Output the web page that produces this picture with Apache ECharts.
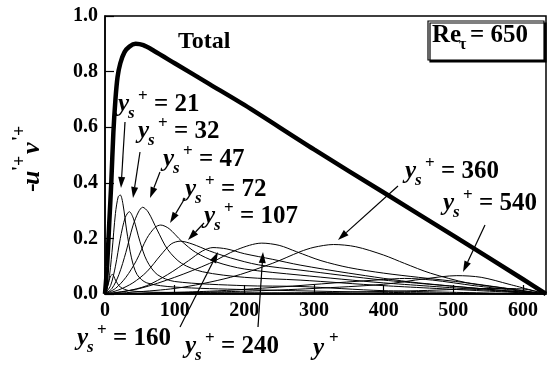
<!DOCTYPE html>
<html>
<head>
<meta charset="utf-8">
<script src="https://cdn.jsdelivr.net/npm/echarts@6/dist/echarts.min.js"></script>
<style>
  html, body { margin: 0; padding: 0; background: #fff; }
  #chart { width: 549px; height: 367px; }
</style>
</head>
<body>
<div id="chart"></div>
<script>
// y+ max (channel half width as drawn)
const yPlusMax = 633

// total Reynolds shear stress  [y+, -u'v'+]
const totalCurve = [[0, 0], [3, 0.1], [6, 0.25], [9, 0.4], [12, 0.58], [15, 0.7], [18, 0.78], [22, 0.83], [28, 0.87],
  [35, 0.89], [44, 0.9], [55, 0.895], [70, 0.875], [100, 0.83], [150, 0.755], [200, 0.68], [300, 0.52],
  [400, 0.365], [500, 0.21], [600, 0.053], [633, 0]]

// contributions of each ys+
const ys10 = [[0, 0], [4, 0.03], [8, 0.065], [11, 0.07], [15, 0.05], [22, 0.025], [35, 0.012], [80, 0.006], [633, 0]]
const ys21 = [[0, 0], [5, 0.04], [10, 0.15], [15, 0.29], [19, 0.35], [22, 0.356], [26, 0.32], [31, 0.23], [38, 0.13],
  [46, 0.07], [60, 0.04], [100, 0.025], [200, 0.016], [400, 0.006], [633, 0]]
const ys32 = [[0, 0], [8, 0.03], [15, 0.1], [22, 0.2], [29, 0.275], [35, 0.296], [41, 0.27], [50, 0.19], [60, 0.12],
  [75, 0.07], [100, 0.045], [200, 0.03], [280, 0.027], [400, 0.012], [633, 0]]
const ys47 = [[0, 0], [10, 0.02], [20, 0.07], [30, 0.15], [40, 0.245], [48, 0.295], [54, 0.312], [62, 0.295], [75, 0.23],
  [90, 0.16], [110, 0.11], [140, 0.08], [200, 0.06], [280, 0.05], [400, 0.03], [633, 0]]
const ys72 = [[0, 0], [15, 0.02], [30, 0.06], [45, 0.12], [60, 0.2], [72, 0.24], [80, 0.248], [92, 0.235], [110, 0.19],
  [130, 0.15], [160, 0.115], [200, 0.09], [280, 0.068], [400, 0.04], [633, 0]]
const ys107 = [[0, 0], [20, 0.015], [40, 0.04], [60, 0.08], [80, 0.14], [95, 0.18], [108, 0.19], [125, 0.18], [150, 0.155],
  [180, 0.13], [220, 0.105], [280, 0.086], [400, 0.05], [633, 0]]
const ys160 = [[0, 0], [30, 0.01], [60, 0.03], [90, 0.07], [120, 0.12], [140, 0.155], [155, 0.167], [175, 0.162],
  [200, 0.145], [240, 0.125], [280, 0.104], [350, 0.075], [450, 0.04], [633, 0]]
const ys240 = [[0, 0], [50, 0.02], [100, 0.06], [150, 0.11], [190, 0.16], [225, 0.183], [250, 0.175], [275, 0.152],
  [310, 0.12], [350, 0.095], [400, 0.075], [450, 0.06], [520, 0.04], [633, 0]]
const ys360 = [[0, 0], [100, 0.02], [180, 0.06], [240, 0.11], [280, 0.152], [300, 0.168], [328, 0.178], [360, 0.17],
  [400, 0.14], [430, 0.11], [467, 0.075], [520, 0.04], [570, 0.022], [633, 0]]
const ys450 = [[0, 0], [150, 0.01], [250, 0.025], [330, 0.04], [400, 0.052], [430, 0.056], [470, 0.05], [530, 0.03], [633, 0]]
const ys540 = [[0, 0], [200, 0.01], [300, 0.02], [400, 0.035], [460, 0.055], [505, 0.066], [540, 0.06], [580, 0.035], [633, 0]]
const ys600 = [[0, 0], [300, 0.005], [450, 0.012], [560, 0.02], [600, 0.018], [633, 0]]

const thinCurves = [ys10, ys21, ys32, ys47, ys72, ys107, ys160, ys240, ys360, ys450, ys540, ys600]

const serif = "'Liberation Serif', 'DejaVu Serif', serif"

// annotation layout (pixels): label value, left x, baseline
const ysLabels = [
  ['21', 118, 113], ['32', 138, 140], ['47', 163, 168], ['72', 185, 198], ['107', 204, 225],
  ['160', 77, 347], ['240', 185, 355], ['360', 405, 180], ['540', 443, 212],
]
// arrows: start x, start y, head x, head y
const arrows = [
  [125, 122, 121, 188], [140, 152, 133, 198], [160, 172, 150, 198], [185, 198, 170, 223], [204, 223, 188, 240],
  [180, 327, 218, 252], [258, 327, 263, 252], [398, 186, 338, 240], [485, 225, 463, 272],
]

function txt(text, x, y, size, italic, extra) {
  return Object.assign({
    type: 'text', x, y, z: 100,
    style: { text, fill: '#000', fontFamily: serif, fontSize: size, fontWeight: 'bold',
      fontStyle: italic ? 'italic' : 'normal', verticalAlign: 'middle', align: 'left' },
  }, extra || {})
}

function ysLabel(num, x, b) {
  return [
    txt('y', x, b - 8, 25, true),
    txt('s', x + 10, b + 1, 17, true),
    txt('+', x + 20, b - 16, 17, false),
    txt('= ' + num, x + 36, b - 8, 25, false),
  ]
}

function arrow(x1, y1, x2, y2) {
  const a = Math.atan2(y2 - y1, x2 - x1)
  const L = 11
  const W = 3.5
  const bx = x2 - L * Math.cos(a)
  const by = y2 - L * Math.sin(a)
  return [
    { type: 'line', z: 100, shape: { x1, y1, x2: bx, y2: by }, style: { stroke: '#000', lineWidth: 1.2 } },
    { type: 'polygon', z: 100,
      shape: { points: [[x2, y2], [bx + W * Math.sin(a), by - W * Math.cos(a)], [bx - W * Math.sin(a), by + W * Math.cos(a)]] },
      style: { fill: '#000' } },
  ]
}

const graphics = []
ysLabels.forEach(l => graphics.push(...ysLabel(l[0], l[1], l[2])))
arrows.forEach(a => graphics.push(...arrow(a[0], a[1], a[2], a[3])))
graphics.push(txt('Total', 178, 42, 24, false))
// Re box
graphics.push({
  type: 'rect', z: 99, shape: { x: 428, y: 21, width: 116, height: 39 },
  style: { fill: '#fff', stroke: '#000', lineWidth: 1.2, shadowColor: '#000', shadowOffsetX: 2, shadowOffsetY: 2, shadowBlur: 0 },
})
graphics.push(txt('Re', 432, 36, 25, false))
graphics.push(txt('τ', 459, 45, 16, false))
graphics.push(txt('= 650', 470, 36, 25, false))
// x axis name
graphics.push(txt('y', 313, 349, 25, true))
graphics.push(txt('+', 329, 339, 17, false))
// y axis name (rotated)
graphics.push({
  type: 'group', x: 32, y: 152, rotation: Math.PI / 2, z: 100,
  children: [
    txt('-', -40, 0, 26, false),
    txt('u', -33, 0, 26, true),
    txt('\'', -19, -12, 18, false),
    txt('+', -14, -12, 18, false),
    txt('v', -2, 0, 26, true),
    txt('\'', 11, -12, 18, false),
    txt('+', 16, -12, 18, false),
  ],
})

const series = thinCurves.map(d => ({
  type: 'line', data: d, smooth: 0.3, symbol: 'none', silent: true,
  lineStyle: { color: '#000', width: 1 },
}))
series.push({
  type: 'line', data: totalCurve, smooth: 0.3, symbol: 'none', silent: true, z: 3,
  lineStyle: { color: '#000', width: 4.5 },
})

const option = {
  animation: false,
  grid: { left: 105, right: 3, top: 16, bottom: 73, show: true, borderColor: '#000', borderWidth: 1.5 },
  xAxis: {
    type: 'value', min: 0, max: yPlusMax, interval: 100,
    axisLine: { lineStyle: { color: '#000', width: 1.5 } },
    axisTick: { inside: true, length: 9, lineStyle: { color: '#000', width: 1.2 } },
    axisLabel: { color: '#000', fontFamily: serif, fontWeight: 'bold', fontSize: 20, margin: 7, showMaxLabel: false },
    splitLine: { show: false },
  },
  yAxis: {
    type: 'value', min: 0, max: 1, interval: 0.2,
    axisLine: { lineStyle: { color: '#000', width: 1.5 } },
    axisTick: { inside: true, length: 9, lineStyle: { color: '#000', width: 1.2 } },
    axisLabel: { color: '#000', fontFamily: serif, fontWeight: 'bold', fontSize: 20, margin: 7,
      formatter: v => v.toFixed(1) },
    splitLine: { show: false },
  },
  series,
  graphic: graphics,
}

const myChart = echarts.init(document.getElementById('chart'))
myChart.setOption(option)
</script>
</body>
</html>
